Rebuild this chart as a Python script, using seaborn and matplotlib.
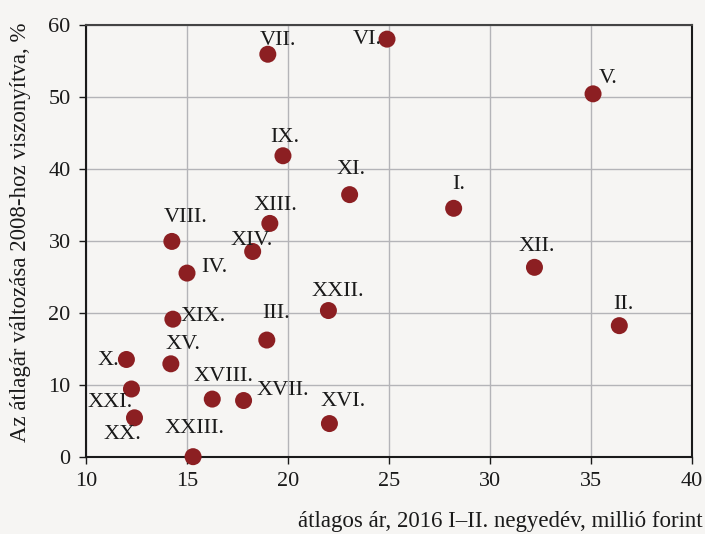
import matplotlib
matplotlib.use('Agg')
import matplotlib.pyplot as plt
import seaborn as sns
import pandas as pd

# Data
labels = ['I.', 'II.', 'III.', 'IV.', 'V.', 'VI.', 'VII.', 'VIII.', 'IX.', 'X.',
          'XI.', 'XII.', 'XIII.', 'XIV.', 'XV.', 'XVI.', 'XVII.', 'XVIII.', 'XIX.',
          'XX.', 'XXI.', 'XXII.', 'XXIII.']
price = [28.2, 36.4, 18.95, 15.0, 35.1, 24.9, 19.0, 14.25, 19.75, 12.0,
         23.05, 32.2, 19.1, 18.25, 14.2, 22.05, 17.8, 16.25, 14.3,
         12.4, 12.25, 22.0, 15.3]
change = [34.5, 18.2, 16.2, 25.5, 50.4, 58.0, 55.9, 29.9, 41.8, 13.5,
          36.4, 26.3, 32.4, 28.5, 12.9, 4.6, 7.8, 8.0, 19.1,
          5.4, 9.4, 20.3, 0.0]

# label offsets in points (x, y) from the dot centre
offsets = {
    'I.': (4, 17), 'II.': (3, 15), 'III.': (7, 19), 'IV.': (20, 4), 'V.': (11, 11),
    'VI.': (-14, 0), 'VII.': (7, 10), 'VIII.': (10, 17), 'IX.': (1, 13), 'X.': (-13, -1),
    'XI.': (1, 18), 'XII.': (2, 15), 'XIII.': (4, 13), 'XIV.': (-1, 8), 'XV.': (9, 14),
    'XVI.': (10, 16), 'XVII.': (28, 7), 'XVIII.': (8, 16), 'XIX.': (22, 2),
    'XX.': (-9, -12), 'XXI.': (-15, -10), 'XXII.': (7, 14), 'XXIII.': (1, 20),
}

df = pd.DataFrame({'label': labels, 'price': price, 'change': change})

bg = '#f6f5f3'
sns.set_style('whitegrid')
plt.rcParams['font.family'] = ['Liberation Serif', 'DejaVu Serif']

fig = plt.figure(figsize=(7.05, 5.34), dpi=100, facecolor=bg)
ax = fig.add_axes([0.122, 0.1448, 0.8596, 0.8089])
ax.set_facecolor(bg)

sns.scatterplot(data=df, x='price', y='change', color='#8c1f22', s=150,
                edgecolor='none', ax=ax, zorder=3, clip_on=False)

for lab, xv, yv in zip(labels, price, change):
    dx, dy = offsets[lab]
    ax.annotate(lab, xy=(xv, yv), xytext=(dx, dy), textcoords='offset points',
                ha='center', va='center', fontsize=16, color='#1a1a1a', zorder=4)

ax.set_xlim(10, 40)
ax.set_ylim(0, 60)
ax.set_xticks([10, 15, 20, 25, 30, 35, 40])
ax.set_yticks([0, 10, 20, 30, 40, 50, 60])
ax.grid(True, color='#b4b4b8', linewidth=1)
ax.tick_params(axis='both', labelsize=16, colors='#1a1a1a', length=5, width=1,
               direction='out', left=True, bottom=True, pad=6)
for name, sp in ax.spines.items():
    sp.set_visible(True)
    sp.set_color('#1a1a1a' if name != 'top' else '#444444')
    sp.set_linewidth(1.5)
ax.set_xlabel('')
ax.set_ylabel('')

fig.text(703 / 705, 1 - 521 / 534, 'átlagos ár, 2016 I–II. negyedév, millió forint',
         ha='right', va='center', fontsize=16.5, color='#1a1a1a')
fig.text(21 / 705, 1 - 232 / 534, 'Az átlagár változása 2008-hoz viszonyítva, %',
         ha='center', va='center', rotation=90, fontsize=16.5, color='#1a1a1a')

fig.savefig('out.png', dpi=100, facecolor=bg)
